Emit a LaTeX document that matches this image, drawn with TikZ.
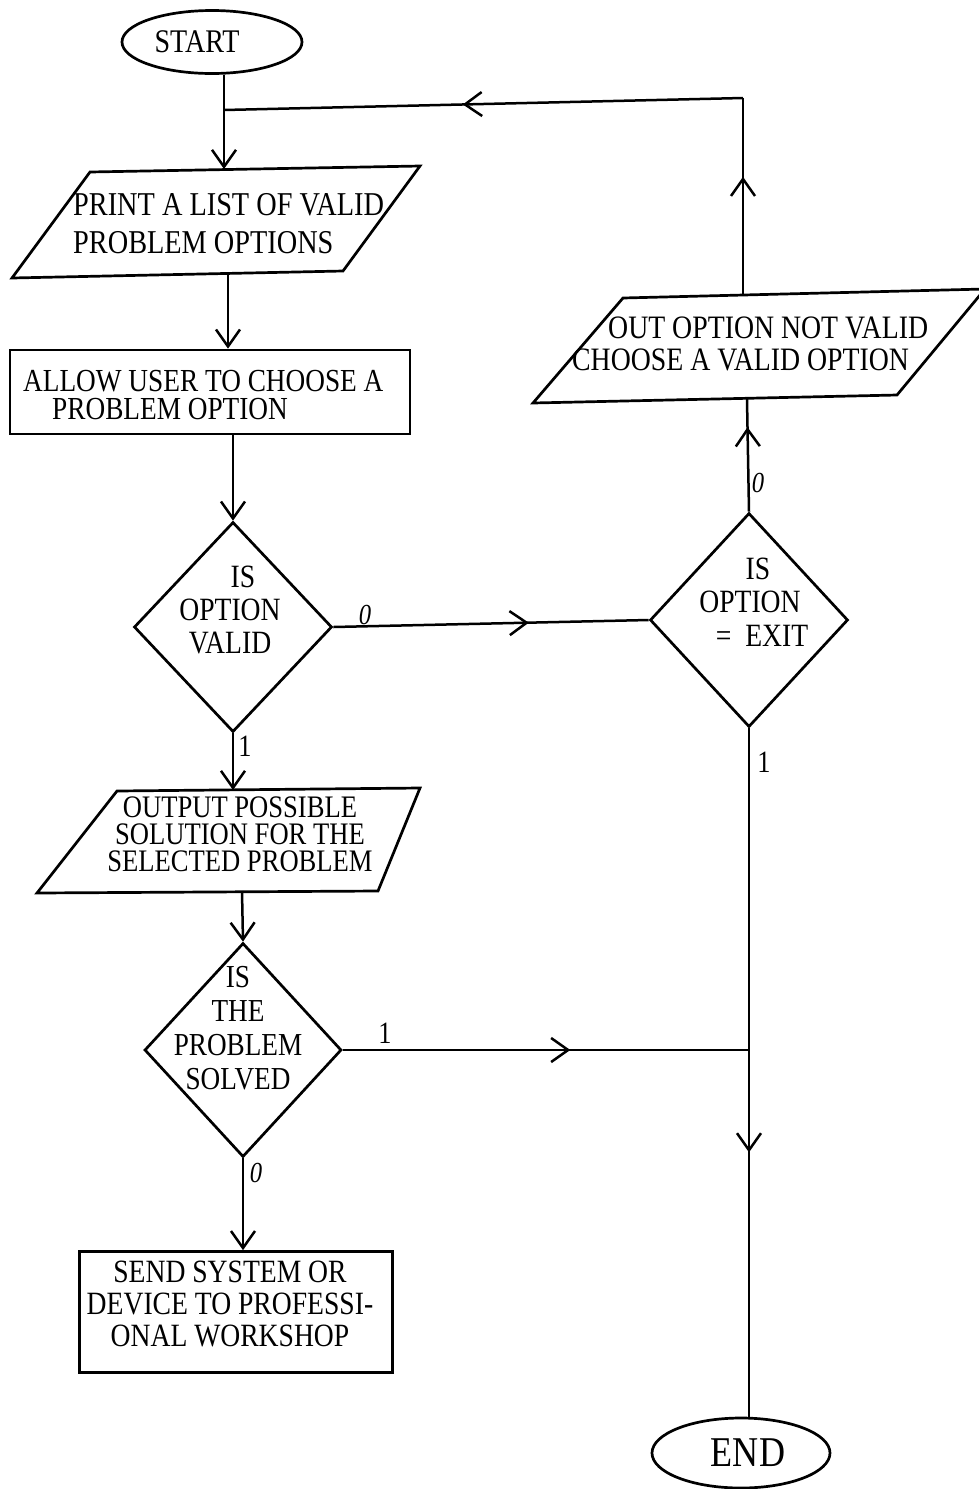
\documentclass[tikz,border=0pt]{standalone}
\usepackage{fontspec}
\setmainfont{Liberation Serif}[FakeStretch=0.85]
\usetikzlibrary{shapes.geometric, arrows.meta, decorations.markings}

\tikzset{
  outline/.style={draw, line width=2.7pt},
  box/.style={outline, rectangle, inner sep=0pt},
  terminal/.style={outline, ellipse, inner sep=0pt},
  decision/.style={outline, diamond, inner sep=0pt, minimum width=198pt},
  txt/.style={inner sep=0pt},
  flow/.style={line width=2.5pt},
  midarrow/.style={postaction={decorate},
    decoration={markings, mark=at position #1 with {\arrow{>}}}},
  branch/.style={inner sep=0pt, font=\fontsize{29pt}{29pt}\selectfont\itshape},
  branchone/.style={inner sep=0pt, font=\fontsize{31pt}{31pt}\selectfont},
}

\begin{document}
\begin{tikzpicture}[x=1pt, y=-1pt, >={Straight Barb[length=17pt,width=24pt]}]
\useasboundingbox (0,0) rectangle (979,1489);

% start terminal
\node[terminal, minimum width=180pt, minimum height=63pt] (start) at (212,42) {};
\node[txt, font=\fontsize{33pt}{33pt}\selectfont] (starttext) at (197,42) {START};

% input/output: list of options
\coordinate (p1a) at (90,172);
\coordinate (p1b) at (420,166);
\coordinate (p1c) at (343,271);
\coordinate (p1d) at (12,278);
\draw[outline] (p1a) -- (p1b) -- (p1c) -- (p1d) -- cycle;
\node[txt, anchor=west, align=left, font=\fontsize{33.3pt}{38pt}\selectfont] (p1text) at (73,224)
  {PRINT A LIST OF VALID\\PROBLEM OPTIONS};
\coordinate (p1n) at (224,169);
\coordinate (p1s) at (228,274);

% process: choose an option
\node[box, minimum width=400pt, minimum height=84pt] (r1) at (210,392) {};
\node[txt, anchor=west, align=left, font=\fontsize{32.1pt}{28pt}\selectfont] (r1text) at (23,395)
  {ALLOW USER TO CHOOSE A\\\hspace*{29pt}PROBLEM OPTION};

% decision: option valid?
\node[decision, minimum height=210pt] (d1) at (233,627) {};
\node[txt, align=center, font=\fontsize{32.5pt}{33pt}\selectfont] (d1text) at (230,610)
  {\hspace*{26pt}IS\\OPTION\\VALID};

% decision: option = exit?
\node[decision, minimum height=214pt] (d2) at (749,620) {};
\node[txt, align=center, font=\fontsize{32.5pt}{33.5pt}\selectfont] (d2text) at (750,602)
  {\hspace*{16pt}IS\\OPTION\\\hspace*{24pt}=\hspace{14pt}EXIT};

% input/output: invalid option message
\coordinate (p2a) at (623,298);
\coordinate (p2b) at (985,289);
\coordinate (p2c) at (897,395);
\coordinate (p2d) at (533,403);
\draw[outline] (p2a) -- (p2b) -- (p2c) -- (p2d) -- cycle;
\node[txt, anchor=west, align=left, font=\fontsize{32.7pt}{32pt}\selectfont] (p2text) at (572,344)
  {\hspace*{36pt}OUT OPTION NOT VALID\\CHOOSE A VALID OPTION};
\coordinate (p2n) at (743,295);
\coordinate (p2s) at (747,399);

% input/output: possible solution
\coordinate (p3a) at (117,791);
\coordinate (p3b) at (420,788);
\coordinate (p3c) at (378,891);
\coordinate (p3d) at (37,893);
\draw[outline] (p3a) -- (p3b) -- (p3c) -- (p3d) -- cycle;
\node[txt, align=center, font=\fontsize{31.3pt}{27pt}\selectfont] (p3text) at (240,834)
  {OUTPUT POSSIBLE\\SOLUTION FOR THE\\SELECTED PROBLEM};
\coordinate (p3n) at (233,790);
\coordinate (p3s) at (242,891);

% decision: problem solved?
\node[decision, minimum width=197pt, minimum height=214pt] (d3) at (243,1050) {};
\node[txt, align=center, font=\fontsize{32pt}{34pt}\selectfont] (d3text) at (238,1028)
  {IS\\THE\\PROBLEM\\SOLVED};

% process: send to workshop
\node[box, minimum width=313pt, minimum height=121pt] (r2) at (236,1312) {};
\node[txt, align=center, font=\fontsize{32.5pt}{32pt}\selectfont] (r2text) at (230,1304)
  {SEND SYSTEM OR\\DEVICE TO PROFESSI-\\ONAL WORKSHOP};

% end terminal
\node[terminal, minimum width=178pt, minimum height=70pt] (end) at (741,1453) {};
\node[txt, font=\fontsize{42.4pt}{42pt}\selectfont] (endtext) at (748,1453) {END};

% junction points
\coordinate (loopr) at (743,98);
\coordinate (loopl) at (224,110);
\coordinate (join) at (749,1050);

% connectors
\draw[flow, ->] (p1n |- start.south) -- (p1n);
\draw[flow, midarrow=0.6] (p2n) -- (loopr);
\draw[flow, midarrow=0.54] (loopr) -- (loopl);
\draw[flow, ->] (p1s) -- (p1s |- r1.north);
\draw[flow, ->] (d1.north |- r1.south) -- (d1.north);
\draw[flow, midarrow=0.62] (d1.east) -- (d2.west);
\draw[flow, ->] (d1.south) -- (p3n);
\draw[flow, ->] (p3s) -- (d3.north);
\draw[flow, midarrow=0.56] (d3.east) -- (join);
\draw[flow, ->] (d3.south) -- (d3.south |- r2.north);
\draw[flow, midarrow=0.616] (d2.south) -- (d2.south |- end.north);
\draw[flow, midarrow=0.75] (d2.north) -- (p2s);

% branch values
\node[branch] (b1) at (365,615) {0};
\node[branchone] (b2) at (245,746) {1};
\node[branch] (b3) at (758,483) {0};
\node[branchone] (b4) at (385,1033) {1};
\node[branch] (b5) at (256,1173) {0};
\node[branchone] (b6) at (764,762) {1};
\end{tikzpicture}
\end{document}
